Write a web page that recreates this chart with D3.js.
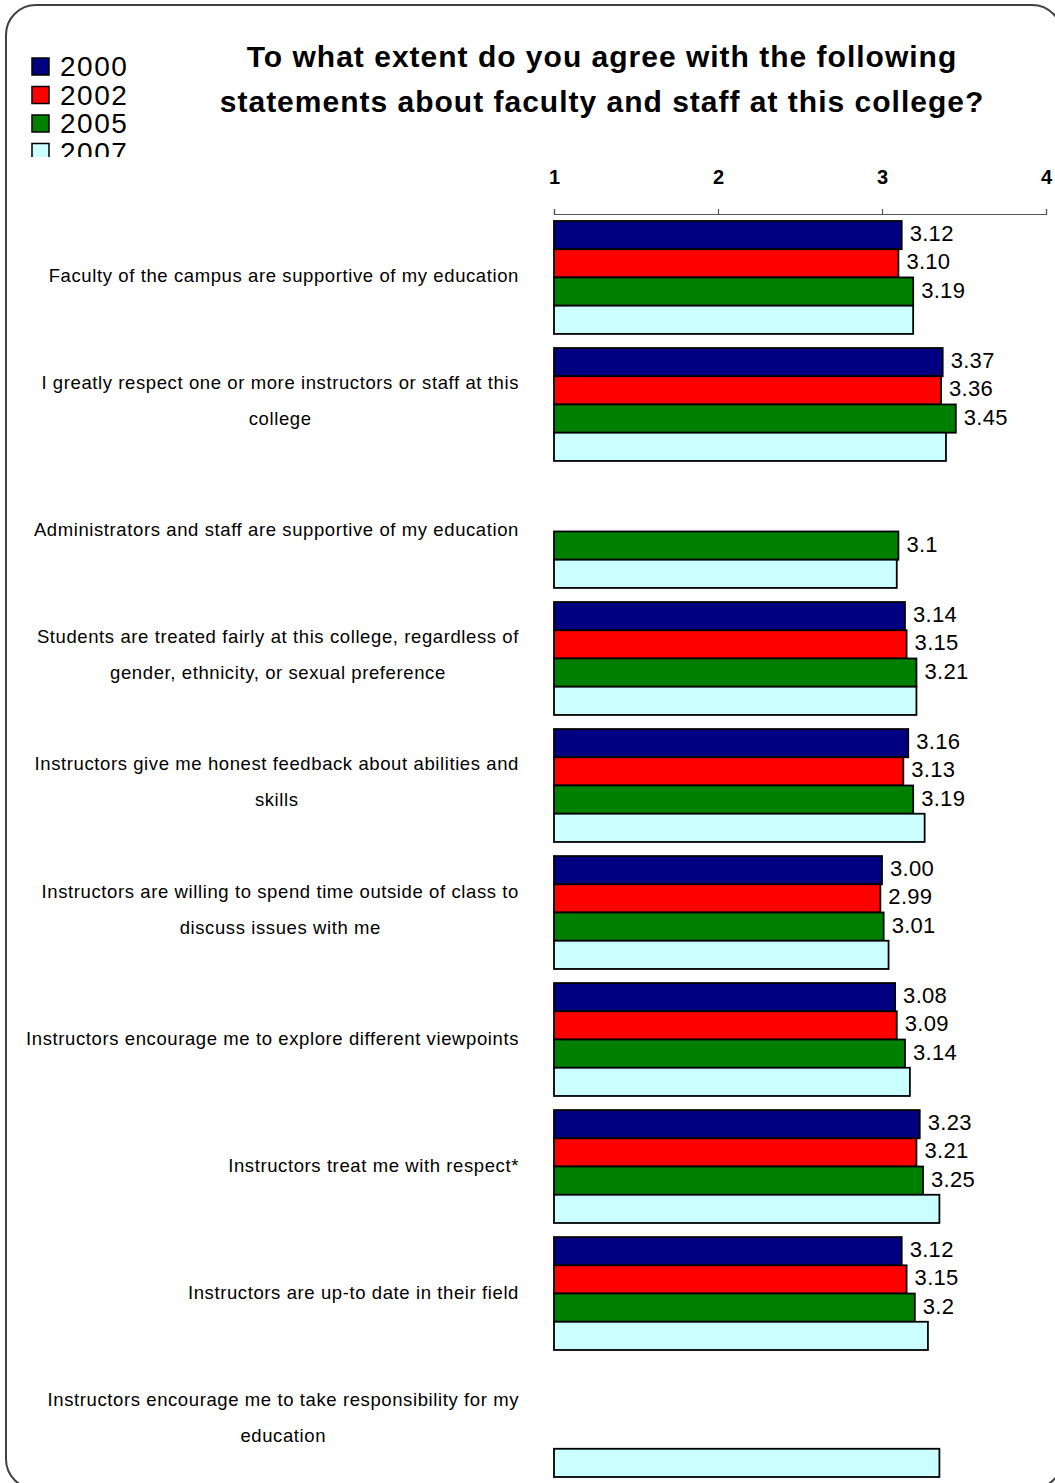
<!DOCTYPE html>
<html>
<head>
<meta charset="utf-8">
<script src="https://cdn.jsdelivr.net/npm/d3@7"></script>
<style>
  html, body { margin: 0; padding: 0; background: #fff; }
  svg { display: block; }
</style>
</head>
<body>
<div id="chart"></div>
<script>
const titleLines = [
  "To what extent do you agree with the following",
  "statements about faculty and staff at this college?"
];
const categories = [
  "Faculty of the campus are supportive of my education",
  "I greatly respect one or more instructors or staff at this\ncollege",
  "Administrators and staff are supportive of my education",
  "Students are treated fairly at this college, regardless of\ngender, ethnicity, or sexual preference",
  "Instructors give me honest feedback about abilities and\nskills",
  "Instructors are willing to spend time outside of class to\ndiscuss issues with me",
  "Instructors encourage me to explore different viewpoints",
  "Instructors treat me with respect*",
  "Instructors are up-to date in their field",
  "Instructors encourage me to take responsibility for my\neducation"
];
const seriesNames = ["2000", "2002", "2005", "2007"];
const seriesColors = ["#000080", "#FF0000", "#008000", "#CCFFFF"];
const values2000 = [3.12, 3.37, null, 3.14, 3.16, 3.00, 3.08, 3.23, 3.12, null];
const values2002 = [3.10, 3.36, null, 3.15, 3.13, 2.99, 3.09, 3.21, 3.15, null];
const values2005 = [3.19, 3.45, 3.1, 3.21, 3.19, 3.01, 3.14, 3.25, 3.2, null];
const values2007 = [3.19, 3.39, 3.09, 3.21, 3.26, 3.04, 3.17, 3.35, 3.28, 3.35];
const labels2000 = ["3.12", "3.37", "", "3.14", "3.16", "3.00", "3.08", "3.23", "3.12", ""];
const labels2002 = ["3.10", "3.36", "", "3.15", "3.13", "2.99", "3.09", "3.21", "3.15", ""];
const labels2005 = ["3.19", "3.45", "3.1", "3.21", "3.19", "3.01", "3.14", "3.25", "3.2", ""];
const labels2007 = ["", "", "", "", "", "", "", "", "", ""];
const tickValues = [1, 2, 3, 4];

const allValues = [values2000, values2002, values2005, values2007];
const allLabels = [labels2000, labels2002, labels2005, labels2007];

const W = 1055, H = 1483;
const svg = d3.select("#chart").append("svg").attr("width", W).attr("height", H);
svg.append("rect").attr("width", W).attr("height", H).attr("fill", "#fff");

// frame
svg.append("rect").attr("x", 6).attr("y", 5).attr("width", 1056).attr("height", 1484)
  .attr("rx", 30).attr("ry", 30).attr("fill", "none").attr("stroke", "#404040").attr("stroke-width", 2);

const font = "'Liberation Sans', Arial, sans-serif";

// title
const title = svg.append("g");
titleLines.forEach((t, i) => {
  title.append("text").attr("x", 602).attr("y", 67 + i * 45)
    .attr("text-anchor", "middle").attr("font-family", font).attr("font-weight", "bold")
    .attr("font-size", 30).attr("letter-spacing", 1).attr("fill", "#000").text(t);
});

// legend
const defs = svg.append("defs");
defs.append("clipPath").attr("id", "legclip").append("rect")
  .attr("x", 0).attr("y", 0).attr("width", 300).attr("height", 157);
const legend = svg.append("g").attr("clip-path", "url(#legclip)");
seriesNames.forEach((s, i) => {
  const y0 = 58 + i * 28.5;
  legend.append("rect").attr("x", 32).attr("y", y0).attr("width", 17).attr("height", 17)
    .attr("fill", seriesColors[i]).attr("stroke", "#000").attr("stroke-width", 1.5);
  legend.append("text").attr("x", 60).attr("y", y0 + 18)
    .attr("font-family", font).attr("font-size", 28).attr("letter-spacing", 1.5)
    .attr("fill", "#000").text(s);
});

// scales
const x = d3.scaleLinear().domain([1, 4]).range([554, 1046]);
const y = d3.scaleBand().domain(categories).range([221, 1477]).paddingInner(0.111).paddingOuter(0);
const ySub = d3.scaleBand().domain(seriesNames).range([0, y.bandwidth()]).padding(0);

// axis
const axis = d3.axisTop(x).tickValues(tickValues).tickSize(5).tickFormat(d3.format("d")).tickPadding(25);
const axG = svg.append("g").attr("transform", "translate(0,214)").call(axis);
axG.select(".domain").attr("stroke", "#555").attr("stroke-width", 1.2);
axG.selectAll(".tick line").attr("stroke", "#555").attr("stroke-width", 1.2);
axG.selectAll(".tick text").attr("font-family", font).attr("font-weight", "bold")
  .attr("font-size", 20).attr("fill", "#000");

// bars
const groups = svg.append("g");
categories.forEach((c, ci) => {
  seriesNames.forEach((s, si) => {
    const v = allValues[si][ci];
    if (v == null) return;
    const by = y(c) + ySub(s);
    groups.append("rect")
      .attr("x", x(1)).attr("y", by)
      .attr("width", x(v) - x(1)).attr("height", ySub.bandwidth())
      .attr("fill", seriesColors[si]).attr("stroke", "#000").attr("stroke-width", 1.8);
    const lab = allLabels[si][ci];
    if (lab) {
      groups.append("text").attr("x", x(v) + 8).attr("y", by + ySub.bandwidth() / 2 + 6)
        .attr("font-family", font).attr("font-size", 22).attr("letter-spacing", 0.3)
        .attr("fill", "#000").text(lab);
    }
  });
});

// category labels
const catG = svg.append("g");
categories.forEach(c => {
  const lines = c.split("\n");
  const cy = y(c) + y.bandwidth() / 2;
  const g = catG.append("g");
  const texts = lines.map((ln, i) => g.append("text")
    .attr("y", cy - 1.5 - (lines.length - 1) * 20 + i * 36 + 6.5)
    .attr("font-family", font).attr("font-size", 18.5).attr("letter-spacing", 0.6)
    .attr("fill", "#000").attr("text-anchor", "middle").text(ln));
  const maxW = d3.max(texts, t => t.node().getComputedTextLength());
  texts.forEach(t => t.attr("x", 519 - maxW / 2));
});
</script>
</body>
</html>
